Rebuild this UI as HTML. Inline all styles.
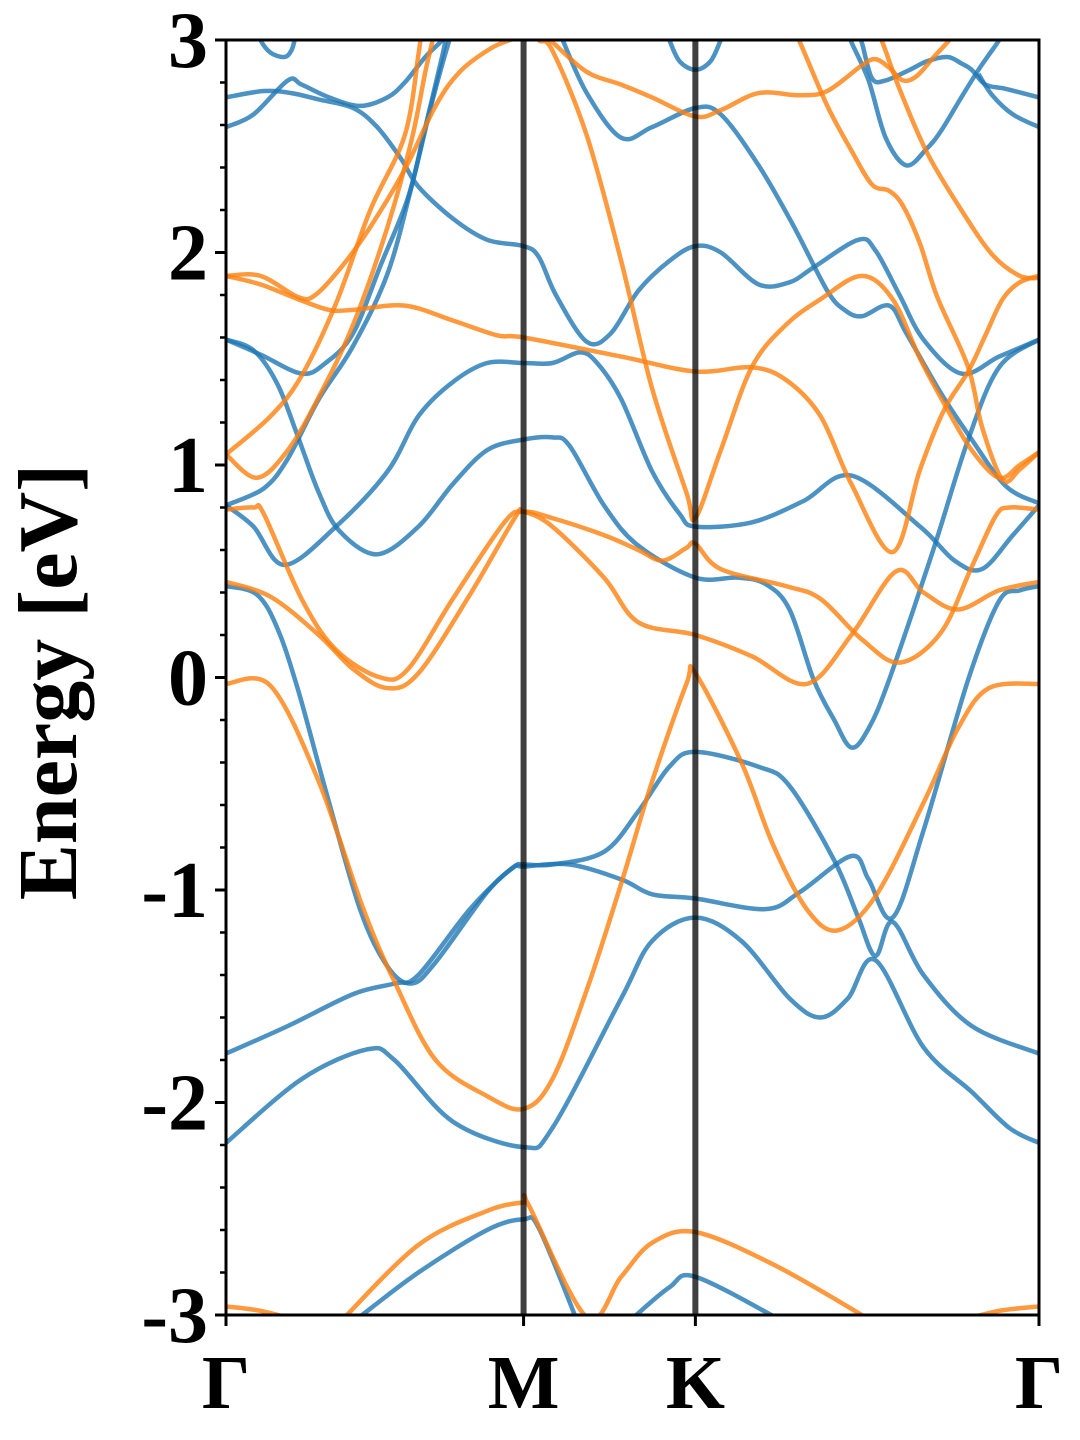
<!DOCTYPE html>
<html><head><meta charset="utf-8"><style>
html,body{margin:0;padding:0;background:#fff;}
svg{display:block;}
text{font-family:"Liberation Serif","Times New Roman",serif;font-weight:bold;fill:#000;}
</style></head><body>
<svg id="chart" width="1080" height="1440" viewBox="0 0 1080 1440" xmlns="http://www.w3.org/2000/svg">
<defs><clipPath id="plotClip"><rect x="226" y="40" width="813" height="1275"/></clipPath></defs>
<g id="bands" clip-path="url(#plotClip)"></g>
<g id="axes"></g>
</svg>
<script>
const kPoints = [0, 0.866, 1.366, 2.366];
const kLabels = ["Γ", "M", "K", "Γ"];
const yTicks = [-3, -2, -1, 0, 1, 2, 3];
const yTickLabels = ["-3", "-2", "-1", "0", "1", "2", "3"];
const yRange = [-3, 3];

const blueA = [[0,.43],[.09,.39],[.15,.23],[.21,-.06],[.29,-.53],[.39,-1.09],[.47,-1.36],[.54,-1.44],[.61,-1.34],[.76,-1.01],[.84,-.89],[.866,-.88],[.95,-.88],[1.10,-.82],[1.20,-.63],[1.29,-.42],[1.366,-.35],[1.55,-.42],[1.64,-.51],[1.77,-.86],[1.84,-1.13],[1.89,-1.31],[1.94,-1.15],[2.03,-1.40],[2.17,-1.64],[2.366,-1.77]];
const blueC = [[0,-1.77],[.18,-1.64],[.37,-1.49],[.49,-1.44],[.56,-1.40],[.71,-1.09],[.83,-.90],[.866,-.89],[1.00,-.88],[1.15,-.95],[1.24,-1.02],[1.366,-1.04],[1.57,-1.09],[1.67,-1.01],[1.82,-.84],[1.87,-.95],[1.94,-1.13],[2.03,-.72],[2.16,-.01],[2.25,.36],[2.31,.41],[2.366,.43]];
const blueD = [[0,-2.19],[.22,-1.89],[.41,-1.75],[.49,-1.80],[.66,-2.09],[.866,-2.21],[.95,-2.12],[1.15,-1.51],[1.24,-1.24],[1.366,-1.13],[1.50,-1.24],[1.64,-1.51],[1.73,-1.60],[1.81,-1.51],[1.89,-1.33],[2.03,-1.74],[2.17,-1.95],[2.28,-2.12],[2.366,-2.19]];
const blueE = [[.38,-3.02],[.56,-2.80],[.76,-2.60],[.866,-2.55],[.91,-2.59],[1.02,-3.02]];
const blueF = [[1.18,-3.02],[1.29,-2.87],[1.366,-2.82],[1.61,-3.02]];
const blue5 = [[0,1.59],[.08,1.54],[.15,1.38],[.21,1.13],[.27,.87],[.33,.69],[.44,.58],[.56,.71],[.66,.91],[.76,1.07],[.866,1.12],[.95,1.13],[1.00,1.09],[1.10,.81],[1.20,.62],[1.366,.47],[1.49,.47],[1.57,.44],[1.64,.32],[1.71,-.01],[1.77,-.20],[1.82,-.33],[1.87,-.24],[1.93,-.01],[2.06,.61],[2.16,1.12],[2.25,1.46],[2.366,1.59]];
const blue6 = [[0,.81],[.08,.71],[.17,.53],[.32,.71],[.47,.97],[.56,1.23],[.66,1.39],[.76,1.48],[.866,1.48],[.95,1.48],[1.03,1.53],[1.08,1.48],[1.15,1.31],[1.24,.97],[1.32,.77],[1.366,.71],[1.53,.73],[1.68,.83],[1.82,.95],[2.02,.71],[2.12,.55],[2.20,.51],[2.29,.67],[2.366,.81]];
const blue7 = [[0,.81],[.11,.89],[.18,1.03],[.27,1.31],[.37,1.56],[.47,1.90],[.54,2.31],[.60,2.71],[.65,3.0],[.67,3.09]];
const blue8 = [[0,1.59],[.10,1.52],[.22,1.43],[.29,1.48],[.37,1.62],[.45,1.94],[.53,2.26],[.58,2.59],[.63,2.93],[.65,3.09]];
const blue1 = [[0,2.73],[.11,2.76],[.19,2.75],[.27,2.72],[.37,2.68],[.44,2.59],[.51,2.44],[.56,2.31],[.66,2.16],[.76,2.06],[.866,2.03],[.91,1.98],[.96,1.80],[1.05,1.58],[1.12,1.62],[1.20,1.82],[1.29,1.96],[1.366,2.03],[1.44,2.00],[1.55,1.85],[1.64,1.86],[1.71,1.93],[1.84,2.06],[1.89,2.01],[1.96,1.80],[2.03,1.59],[2.14,1.43],[2.25,1.51],[2.366,1.59]];
const blue2 = [[0,2.59],[.08,2.65],[.18,2.81],[.22,2.79],[.30,2.73],[.39,2.69],[.47,2.73],[.52,2.80],[.58,2.92],[.63,3.0],[.66,3.06]];
const blue3 = [[.09,3.06],[.10,3.0],[.13,2.94],[.17,2.92],[.19,2.95],[.20,3.0],[.21,3.06]];
const blue9 = [[1.27,3.08],[1.29,3.0],[1.32,2.90],[1.366,2.86],[1.41,2.90],[1.44,3.0],[1.46,3.08]];
const blue9b = [[.97,3.05],[.98,3.0],[1.05,2.75],[1.15,2.54],[1.24,2.59],[1.366,2.68],[1.44,2.65],[1.55,2.41],[1.65,2.13],[1.75,1.82],[1.80,1.73],[1.85,1.70],[1.93,1.75],[1.98,1.62],[2.08,1.34],[2.17,1.12],[2.27,.90],[2.366,.82]];
const blue10 = [[1.80,3.08],[1.82,2.99],[1.87,2.81],[1.92,2.54],[1.98,2.41],[2.04,2.49],[2.08,2.57],[2.14,2.73],[2.19,2.86],[2.22,2.93],[2.25,3.0],[2.26,3.05]];
const blue11 = [[1.83,3.08],[1.85,2.99],[1.88,2.82],[1.92,2.81],[1.99,2.86],[2.04,2.90],[2.10,2.92],[2.14,2.89],[2.17,2.86],[2.21,2.79],[2.27,2.77],[2.366,2.73]];
const blue12 = [[2.19,2.84],[2.23,2.74],[2.29,2.65],[2.366,2.59]];

const orangeA = [[0,-.03],[.13,-.04],[.27,-.49],[.40,-1.09],[.49,-1.43],[.61,-1.80],[.76,-1.97],[.866,-2.03],[.95,-1.89],[1.05,-1.47],[1.15,-.97],[1.24,-.49],[1.34,-.03],[1.366,.02],[1.50,-.40],[1.59,-.78],[1.69,-1.09],[1.78,-1.19],[1.89,-1.03],[2.03,-.59],[2.13,-.24],[2.22,-.05],[2.366,-.03]];
const orangeB1 = [[0,-2.96],[.10,-2.98],[.22,-3.03]];
const orangeB2 = [[2.13,-3.03],[2.25,-2.98],[2.366,-2.96]];
const orangeC = [[.34,-3.02],[.56,-2.67],[.76,-2.51],[.866,-2.47],[.88,-2.48],[1.05,-3.01],[1.15,-2.82],[1.24,-2.66],[1.366,-2.61],[1.59,-2.76],[1.84,-2.99],[1.86,-3.02]];
const orangeE1 = [[0,.79],[.08,.80],[.11,.77],[.22,.37],[.32,.13],[.45,0.0],[.53,.04],[.66,.37],[.81,.73],[.866,.78],[.95,.75],[1.10,.67],[1.20,.60],[1.27,.55],[1.34,.61],[1.366,.63],[1.44,.51],[1.63,.43],[1.73,.37],[1.85,.18],[1.96,.07],[2.08,.21],[2.17,.52],[2.24,.76],[2.28,.80],[2.366,.79]];
const orangeE2 = [[0,.45],[.13,.38],[.27,.20],[.37,.04],[.47,-.05],[.56,.02],[.71,.39],[.84,.75],[.866,.78],[.95,.71],[1.10,.47],[1.20,.26],[1.366,.20],[1.53,.10],[1.69,-.03],[1.82,.20],[1.95,.50],[2.03,.40],[2.13,.32],[2.25,.41],[2.366,.45]];
const orangeF1 = [[0,1.05],[.09,.94],[.18,1.07],[.27,1.32],[.37,1.66],[.47,2.12],[.54,2.53],[.58,2.85],[.60,2.99],[.61,3.07]];
const orangeF2 = [[0,1.05],[.13,1.23],[.22,1.42],[.32,1.76],[.42,2.20],[.52,2.55],[.56,2.93],[.57,3.07]];
const orangeG = [[0,1.89],[.10,1.89],[.21,1.79],[.26,1.80],[.34,1.94],[.42,2.12],[.52,2.39],[.61,2.69],[.68,2.85],[.77,2.96],[.84,3.01],[.87,3.05]];
const orangeAa = [[0,1.89],[.10,1.85],[.21,1.78],[.30,1.73],[.37,1.73],[.52,1.75],[.66,1.68],[.79,1.61],[.866,1.60],[1.15,1.51],[1.366,1.44],[1.53,1.46],[1.63,1.40],[1.73,1.23],[1.82,.91],[1.94,.59],[2.02,.98],[2.09,1.26],[2.16,1.44],[2.21,1.61],[2.26,1.78],[2.31,1.86],[2.366,1.89]];
const orangeH = [[.89,3.08],[.91,3.0],[.95,2.95],[1.05,2.55],[1.15,1.96],[1.24,1.36],[1.34,.87],[1.366,.75],[1.44,1.07],[1.53,1.46],[1.63,1.66],[1.73,1.78],[1.85,1.89],[1.94,1.78],[2.02,1.50],[2.10,1.26],[2.17,1.07],[2.25,.94],[2.31,1.00],[2.366,1.06]];
const orangeI = [[1.64,3.08],[1.67,2.99],[1.75,2.69],[1.82,2.48],[1.88,2.32],[1.93,2.29],[1.97,2.22],[2.02,2.04],[2.07,1.79],[2.16,1.46],[2.20,1.18],[2.26,.93],[2.31,.98],[2.366,1.06]];
const orangeJ = [[1.88,3.08],[1.91,2.99],[1.96,2.77],[2.04,2.47],[2.14,2.20],[2.23,1.99],[2.31,1.89],[2.366,1.88]];
const orangeK = [[.93,3.02],[.95,2.99],[1.05,2.85],[1.15,2.79],[1.24,2.73],[1.366,2.64],[1.44,2.67],[1.55,2.75],[1.67,2.74],[1.75,2.76],[1.85,2.88],[1.89,2.91],[1.93,2.87],[1.97,2.81],[2.01,2.83],[2.06,2.92],[2.10,2.99],[2.13,3.05]];

const blueBands = [blueA, blueC, blueD, blueE, blueF, blue5, blue6, blue7, blue8, blue1, blue2, blue3, blue9, blue9b, blue10, blue11, blue12];
const orangeBands = [orangeA, orangeB1, orangeB2, orangeC, orangeE1, orangeE2, orangeF1, orangeF2, orangeG, orangeAa, orangeH, orangeI, orangeJ, orangeK];

const NS = "http://www.w3.org/2000/svg";
const FONT = '"Liberation Serif", "Times New Roman", serif';
const PX0 = 226, PX1 = 1039, PY0 = 40, PY1 = 1315;
const kMax = kPoints[kPoints.length - 1];
function xScale(k) { return PX0 + (k / kMax) * (PX1 - PX0); }
function yScale(e) { return PY1 - (e - yRange[0]) / (yRange[1] - yRange[0]) * (PY1 - PY0); }

function smoothPath(pts) {
  const p = pts.map(d => [xScale(d[0]), yScale(d[1])]);
  let s = "M" + p[0][0].toFixed(1) + "," + p[0][1].toFixed(1);
  for (let i = 0; i < p.length - 1; i++) {
    const p0 = p[i - 1] || p[i], p1 = p[i], p2 = p[i + 1], p3 = p[i + 2] || p2;
    const c1x = p1[0] + (p2[0] - p0[0]) / 6, c1y = p1[1] + (p2[1] - p0[1]) / 6;
    const c2x = p2[0] - (p3[0] - p1[0]) / 6, c2y = p2[1] - (p3[1] - p1[1]) / 6;
    s += "C" + c1x.toFixed(1) + "," + c1y.toFixed(1) + " " + c2x.toFixed(1) + "," + c2y.toFixed(1) + " " + p2[0].toFixed(1) + "," + p2[1].toFixed(1);
  }
  return s;
}

const bandsG = document.getElementById("bands");
function drawBand(pts, color, name) {
  const path = document.createElementNS(NS, "path");
  path.setAttribute("d", smoothPath(pts));
  path.setAttribute("fill", "none");
  path.setAttribute("stroke", color);
  path.setAttribute("stroke-opacity", "0.8");
  path.setAttribute("stroke-width", "4.5");
  path.setAttribute("stroke-linejoin", "round");
  
  
  bandsG.appendChild(path);
}
blueBands.forEach((b, i) => drawBand(b, "#1f77b4", "spin-up-band-" + (i + 1)));
orangeBands.forEach((b, i) => drawBand(b, "#ff7f0e", "spin-down-band-" + (i + 1)));

const axesG = document.getElementById("axes");
[kPoints[1], kPoints[2]].forEach((k, i) => {
  const l = document.createElementNS(NS, "line");
  l.setAttribute("x1", xScale(k)); l.setAttribute("x2", xScale(k));
  l.setAttribute("y1", PY0); l.setAttribute("y2", PY1);
  l.setAttribute("stroke", "#000"); l.setAttribute("stroke-opacity", "0.75"); l.setAttribute("stroke-width", "6");
  
  
  axesG.appendChild(l);
});
const frame = document.createElementNS(NS, "rect");
frame.setAttribute("x", PX0); frame.setAttribute("y", PY0);
frame.setAttribute("width", PX1 - PX0); frame.setAttribute("height", PY1 - PY0);
frame.setAttribute("fill", "none"); frame.setAttribute("stroke", "#000"); frame.setAttribute("stroke-width", "3");


axesG.appendChild(frame);
for (let v = yRange[0]; v <= yRange[1] + 1e-9; v += 0.2) {
  const major = Math.abs(v - Math.round(v)) < 1e-6;
  const t = document.createElementNS(NS, "line");
  t.setAttribute("x1", PX0 - (major ? 11 : 6)); t.setAttribute("x2", PX0);
  t.setAttribute("y1", yScale(v)); t.setAttribute("y2", yScale(v));
  t.setAttribute("stroke", "#000"); t.setAttribute("stroke-width", major ? "3" : "2.5");
  
  
  axesG.appendChild(t);
}
yTicks.forEach((v, i) => {
  const tx = document.createElementNS(NS, "text");
  tx.setAttribute("x", 208); tx.setAttribute("y", yScale(v) + 27);
  tx.setAttribute("text-anchor", "end"); tx.setAttribute("font-size", "80");
  tx.setAttribute("font-family", FONT); tx.setAttribute("font-weight", "bold");
  tx.textContent = yTickLabels[i];
  
  
  axesG.appendChild(tx);
});
kPoints.forEach((k, i) => {
  const t = document.createElementNS(NS, "line");
  t.setAttribute("x1", xScale(k)); t.setAttribute("x2", xScale(k));
  t.setAttribute("y1", PY1); t.setAttribute("y2", PY1 + 11);
  t.setAttribute("stroke", "#000"); t.setAttribute("stroke-width", "3");
  
  
  axesG.appendChild(t);
  const tx = document.createElementNS(NS, "text");
  tx.setAttribute("x", xScale(k)); tx.setAttribute("y", 1408);
  tx.setAttribute("text-anchor", "middle"); tx.setAttribute("font-size", "76");
  tx.setAttribute("font-family", FONT); tx.setAttribute("font-weight", "bold");
  tx.textContent = kLabels[i];
  
  
  axesG.appendChild(tx);
});
const yt = document.createElementNS(NS, "text");
yt.setAttribute("transform", "translate(76,682) rotate(-90)");
yt.setAttribute("text-anchor", "middle"); yt.setAttribute("font-size", "84");
yt.setAttribute("font-family", FONT); yt.setAttribute("font-weight", "bold");
yt.textContent = "Energy [eV]";


axesG.appendChild(yt);
</script>
</body></html>
